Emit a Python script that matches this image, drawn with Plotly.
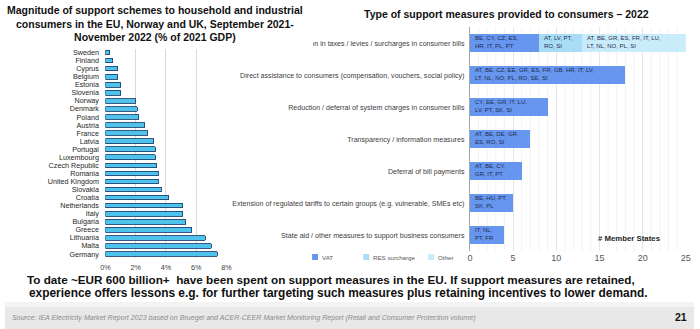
import plotly.graph_objects as go

# ---------------- data ----------------
countries = ["Sweden", "Finland", "Cyprus", "Belgium", "Estonia", "Slovenia", "Norway",
             "Denmark", "Poland", "Austria", "France", "Latvia", "Portugal", "Luxembourg",
             "Czech Republic", "Romania", "United Kingdom", "Slovakia", "Croatia",
             "Netherlands", "Italy", "Bulgaria", "Greece", "Lithuania", "Malta", "Germany"]
support_pct_gdp = [0.3, 0.5, 0.8, 0.8, 1.0, 1.0, 2.0, 2.1, 2.2, 2.6, 2.8, 3.2, 3.3, 3.3,
                   3.4, 3.5, 3.5, 3.7, 4.2, 5.1, 5.1, 5.3, 5.7, 6.6, 7.0, 7.4]
pct_ticks = [0, 2, 4, 6, 8]
pct_tick_labels = ["0%", "2%", "4%", "6%", "8%"]

measures = ["Reduction in taxes / levies / surcharges in consumer bills",
            "Direct assistance to consumers (compensation, vouchers, social policy)",
            "Reduction / deferral of system charges in consumer bills",
            "Transparency / information measures",
            "Deferral of bill payments",
            "Extension of regulated tariffs to certain groups (e.g. vulnerable, SMEs etc)",
            "State aid / other measures to support business consumers"]
series_names = ["VAT", "RES surcharge", "Other"]
vat = [8, 18, 9, 7, 6, 5, 4]
res_surcharge = [5, 0, 0, 0, 0, 0, 0]
other = [12, 0, 0, 0, 0, 0, 0]
vat_members = ["BE, CY, CZ, ES,<br>HR, IT, PL, PT",
               "AT, BE, CZ, EE, GR, ES, FR, GB, HR, IT, LV,<br>LT, NL, NO, PL, RO, SE, SI",
               "CY, EE, GR, IT, LU,<br>LV, PT, SK, SI",
               "AT, BE, DE, GR,<br>ES, RO, SI",
               "AT, BE, CY,<br>GR, IT, PT",
               "BE, HU, PT,<br>SK, PL",
               "IT, NL,<br>PT, FR"]
res_members = ["AT, LV, PT,<br>RO, SI", "", "", "", "", "", ""]
other_members = ["AT, BE, GR, ES, FR, IT, LU,<br>LT, NL, NO, PL, SI", "", "", "", "", "", ""]
member_ticks = [0, 5, 10, 15, 20, 25]

# ---------------- styling ----------------
W, H = 700, 329
FONT = "Liberation Sans, Arial, sans-serif"
LEFT_BAR = "#4dc3ee"
LEFT_EDGE = "#25466f"
SERIES_COLORS = ["#6796ef", "#a9dcf5", "#c9ecfa"]
TXT_DARK = "#1e2c4f"


def px(x):
    return x / W


def py(y):
    return 1 - y / H


fig = go.Figure()

# left chart
fig.add_trace(go.Bar(
    x=support_pct_gdp, y=countries, orientation="h",
    marker=dict(color=LEFT_BAR, line=dict(color=LEFT_EDGE, width=0.9)),
    xaxis="x", yaxis="y", showlegend=False, hoverinfo="x+y"))

# right chart (stacked)
series_vals = [vat, res_surcharge, other]
for name, vals, col in zip(series_names, series_vals, SERIES_COLORS):
    fig.add_trace(go.Bar(
        x=vals, y=measures, orientation="h", name=name,
        marker=dict(color=col, line=dict(width=0)),
        xaxis="x2", yaxis="y2", showlegend=False))

annotations = []
# member-state codes inside segments
series_members = [vat_members, res_members, other_members]
for i, m in enumerate(measures):
    base = 0
    for vals, labels in zip(series_vals, series_members):
        if vals[i] > 0 and labels[i]:
            annotations.append(dict(
                x=base, y=m, xref="x2", yref="y2", text=labels[i],
                showarrow=False, xanchor="left", yanchor="middle", align="left",
                xshift=3, yshift=1,
                font=dict(family=FONT, size=6, color=TXT_DARK)))
        base += vals[i]

# titles
annotations.append(dict(
    x=px(152), y=py(23), xref="paper", yref="paper", showarrow=False,
    text="<b>Magnitude of support schemes to household and industrial<br>"
         "consumers in the EU, Norway and UK, September 2021-<br>"
         "November 2022 (% of 2021 GDP)</b>",
    align="center", xanchor="center", yanchor="middle",
    font=dict(family=FONT, size=10.5, color="#111111")))
annotations.append(dict(
    x=px(510), y=py(14), xref="paper", yref="paper", showarrow=False,
    text="<b>Type of support measures provided to consumers \u2013 2022</b>",
    xanchor="center", yanchor="middle",
    font=dict(family=FONT, size=10.5, color="#111111")))
annotations.append(dict(
    x=px(634), y=py(238), xref="paper", yref="paper", showarrow=False,
    text="<b># Member States</b>", xanchor="center", yanchor="middle",
    font=dict(family=FONT, size=7.8, color="#262626")))

# legend (manual, matching the original placement)
legend_sq_x = [312, 364, 430]
legend_txt_x = [320, 372, 438]
shapes = []
for name, col, sx, tx in zip(series_names, SERIES_COLORS, legend_sq_x, legend_txt_x):
    shapes.append(dict(type="rect", xref="paper", yref="paper",
                       x0=px(sx), x1=px(sx + 6), y0=py(260), y1=py(254),
                       fillcolor=col, line=dict(width=0), layer="above"))
    annotations.append(dict(
        x=px(tx), y=py(257.5), xref="paper", yref="paper", showarrow=False,
        text=name, xanchor="left", yanchor="middle",
        font=dict(family=FONT, size=6.2, color="#595959")))

# bottom statement
annotations.append(dict(
    x=px(331), y=py(279), xref="paper", yref="paper", showarrow=False,
    text="<b>To date ~EUR 600 billion+  have been spent on support measures in the EU. "
         "If support measures are retained,</b>",
    xanchor="center", yanchor="middle",
    font=dict(family=FONT, size=11.7, color="#111111")))
annotations.append(dict(
    x=px(338), y=py(292.5), xref="paper", yref="paper", showarrow=False,
    text="<b>experience offers lessons e.g. for further "
         "targeting such measures plus retaining incentives to lower demand.</b>",
    xanchor="center", yanchor="middle",
    font=dict(family=FONT, size=11.9, color="#111111")))

# footer
shapes.append(dict(type="rect", xref="paper", yref="paper", x0=0, x1=1,
                   y0=py(307), y1=py(302), fillcolor="#f3f3f3", line=dict(width=0),
                   layer="below"))
shapes.append(dict(type="rect", xref="paper", yref="paper", x0=0, x1=1,
                   y0=0, y1=py(307), fillcolor="#e8e8e8", line=dict(width=0),
                   layer="below"))
annotations.append(dict(
    x=px(5), y=py(318), xref="paper", yref="paper", showarrow=False,
    text="<i>Source: IEA Electricity Market Report 2023 based on Bruegel and ACER-CEER "
         "Market Monitoring Report (Retail and Consumer Protection volume)</i>",
    xanchor="left", yanchor="middle",
    font=dict(family=FONT, size=7.1, color="#8c8c8c")))
annotations.append(dict(
    x=px(687), y=py(317), xref="paper", yref="paper", showarrow=False,
    text="<b>21</b>", xanchor="center", yanchor="middle",
    font=dict(family=FONT, size=10.5, color="#111111")))

# mask covering start of the first measure label (hidden behind left panel in original)
shapes.append(dict(type="rect", xref="paper", yref="paper",
                   x0=px(228), x1=px(313), y0=py(53), y1=py(30),
                   fillcolor="white", line=dict(width=0), layer="above"))

# right-chart minor grid lines (every member state)
for v in range(1, 26):
    if v % 5:
        shapes.append(dict(type="line", xref="x2", yref="paper",
                           x0=v, x1=v, y0=py(251), y1=py(27),
                           line=dict(color="#f3f3f3", width=1), layer="below"))

fig.update_layout(
    width=W, height=H,
    margin=dict(l=0, r=0, t=0, b=0),
    paper_bgcolor="white", plot_bgcolor="rgba(0,0,0,0)",
    barmode="stack",
    bargap=0.42,
    font=dict(family=FONT),
    showlegend=False,
    annotations=annotations,
    shapes=shapes,
    xaxis=dict(domain=[px(102), px(225)], range=[0, 8], tickvals=pct_ticks,
               ticktext=pct_tick_labels, showgrid=True, gridcolor="#d9d9d9",
               gridwidth=1, zeroline=False, showline=False, ticks="outside",
               ticklen=2, tickcolor="rgba(0,0,0,0)",
               tickfont=dict(family=FONT, size=7.2, color="#404040"), fixedrange=True),
    yaxis=dict(domain=[py(258), py(48.5)], autorange="reversed", type="category",
               tickmode="array", tickvals=countries, ticktext=countries,
               showgrid=False, zeroline=False, showline=False, ticks="outside",
               ticklen=4, tickcolor="rgba(0,0,0,0)",
               tickfont=dict(family=FONT, size=7.2, color="#262626"), fixedrange=True),
    xaxis2=dict(domain=[px(472.3), px(691.7)], range=[0, 25], tickvals=member_ticks,
                showgrid=True, gridcolor="#e6e6e6", gridwidth=1, zeroline=False,
                showline=False, ticks="", anchor="y2",
                tickfont=dict(family=FONT, size=9, color="#595959"), fixedrange=True),
    yaxis2=dict(domain=[py(251), py(27)], autorange="reversed", type="category",
                categoryarray=measures, anchor="x2", showgrid=False, zeroline=False,
                tickmode="array", tickvals=measures, ticktext=measures,
                showline=True, linecolor="#a6a6a6", linewidth=1, ticks="outside",
                ticklen=3, tickcolor="rgba(0,0,0,0)",
                tickfont=dict(family=FONT, size=7.1, color="#404040"), fixedrange=True),
)

fig.write_html("out.html")
